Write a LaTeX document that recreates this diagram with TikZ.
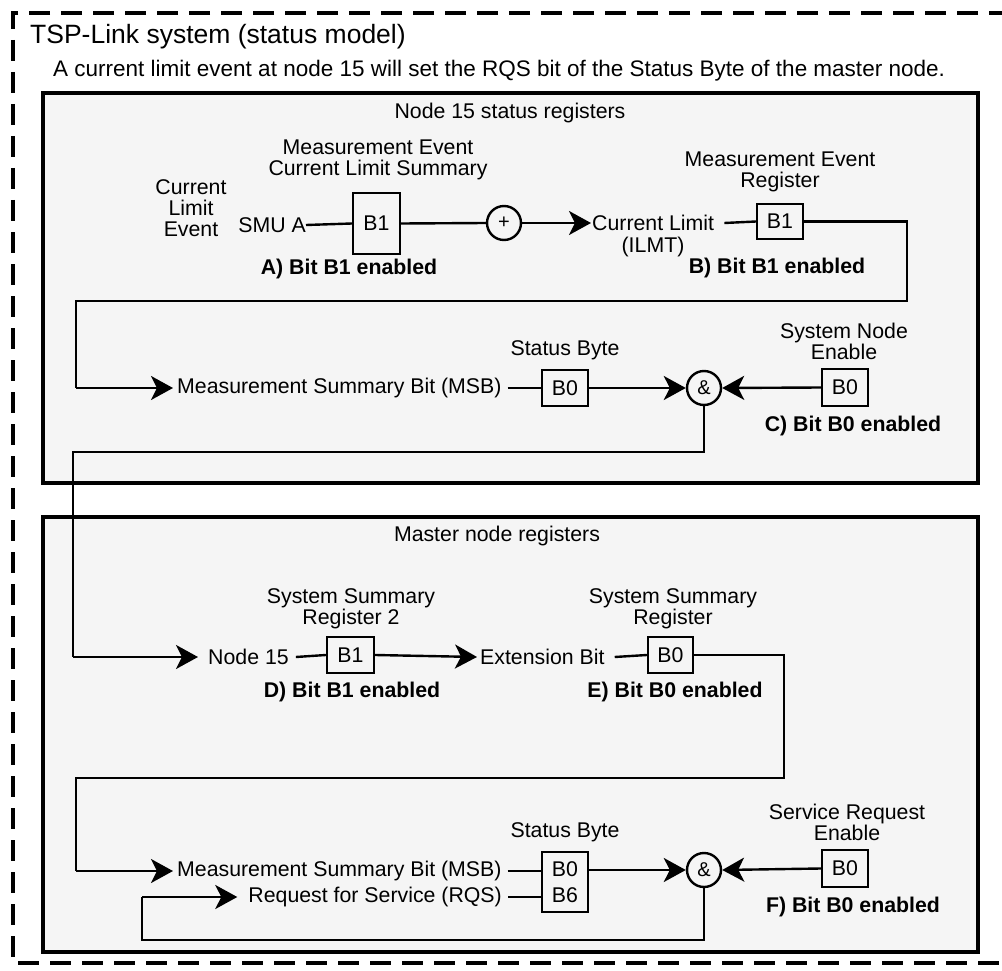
\documentclass[tikz,border=0pt]{standalone}
\usepackage{fontspec}
\setmainfont{Liberation Sans}
\usetikzlibrary{arrows.meta}
\definecolor{panel}{HTML}{F5F5F5}
\begin{document}
\begin{tikzpicture}[x=1pt,y=-1pt,
  lbl/.style={font=\fontsize{21.3}{21}\selectfont, inner sep=0pt, align=center},
  blbl/.style={font=\fontsize{21.3}{21}\selectfont\bfseries, inner sep=0pt, align=center},
  reg/.style={draw, line width=2.4pt, inner sep=0pt, minimum width=46pt, minimum height=36pt, font=\fontsize{21.3}{26}\selectfont, align=center},
  gate/.style={draw, circle, line width=2.4pt, inner sep=0pt, minimum size=34pt, font=\fontsize{20}{20}\selectfont},
  conn/.style={line width=2.4pt},
  arr/.style={line width=2.4pt, -{Stealth[length=22pt,width=24pt,inset=6pt]}},
  panelbox/.style={draw, line width=3.5pt, fill=panel}
]
\useasboundingbox (0,0) rectangle (1002,971);
\fill[white] (0,0) rectangle (1002,971);
% outer dashed frame
\draw[line width=4pt, dash pattern=on 21pt off 11pt] (1010,13) -- (13,13) -- (13,963) -- (1010,963);
\node[font=\fontsize{26.5}{27}\selectfont, inner sep=0pt, anchor=base west] (ttl) at (30,44) {TSP-Link system (status model)};
\node[font=\fontsize{22.5}{23}\selectfont, inner sep=0pt, anchor=base west] (sub) at (53,77) {A current limit event at node 15 will set the RQS bit of the Status Byte of the master node.};

% panels
\draw[panelbox] (43,93) rectangle (978,483);
\draw[panelbox] (43,517) rectangle (978,952);
\node[lbl] (p1) at (510,113) {Node 15 status registers};
\node[lbl] (p2) at (497,536) {Master node registers};

% ---- Node 15 ----
\node[lbl] (cle) at (191,208) {Current\\Limit\\Event};
\node[lbl, anchor=east] (smu) at (306,225) {SMU A};
\node[reg, minimum width=47pt, minimum height=61pt] (ra) at (376.5,223.5) {B1};
\node[lbl] (rat) at (378,160) {Measurement Event\\Current Limit Summary};
\node[blbl] (la) at (349,269) {A) Bit B1 enabled};
\node[gate] (or) at (504,223) {+};
\node[lbl, anchor=west] (cl) at (592,223) {Current Limit};
\node[lbl] (ilmt) at (653,247) {(ILMT)};
\node[reg, minimum height=35pt] (rb) at (780,221.5) {B1};
\node[lbl] (rbt) at (780,172) {Measurement Event\\Register};
\node[blbl] (lb) at (777,268) {B) Bit B1 enabled};
\node[lbl, anchor=west] (msb) at (177,388) {Measurement Summary Bit (MSB)};
\node[reg] (sb) at (565,388) {B0};
\node[lbl] (sbt) at (565,350) {Status Byte};
\node[gate] (and) at (704,388) {\&};
\node[reg, minimum height=37pt] (sne) at (845,387.5) {B0};
\node[lbl] (snet) at (844,341) {System Node\\Enable};
\node[blbl] (lc) at (853,426) {C) Bit B0 enabled};

\draw[conn] (smu.east) -- (ra.west);
\draw[conn] (ra.east) -- (or.west);
\draw[arr] (or.east) -- ([xshift=-1pt]cl.west);
\draw[conn] ([xshift=10pt]cl.east) -- (rb.west);
\draw[conn] (rb.east) -- (907,221.5) -- (907,301) -- (76,301) -- (76,388) coordinate (m1);
\draw[arr] (m1) -- ([xshift=-4pt]msb.west);
\draw[conn] ([xshift=6pt]msb.east) -- (sb.west);
\draw[arr] (sb.east) -- (and.west);
\draw[arr] (sne.west) -- (and.east);
\draw[conn] (and.south) -- (704,452) -- (73,452) -- (73,657) coordinate (m2);

% ---- Master ----
\node[lbl, anchor=west] (n15) at (208,657) {Node 15};
\node[reg, minimum width=47pt] (ssr2) at (350.5,655) {B1};
\node[lbl] (ssr2t) at (351,609) {System Summary\\Register 2};
\node[blbl] (ld) at (352,692) {D) Bit B1 enabled};
\node[lbl, anchor=west] (ext) at (480,657) {Extension Bit};
\node[reg, minimum width=45pt] (ssr) at (670.5,655) {B0};
\node[lbl] (ssrt) at (673,609) {System Summary\\Register};
\node[blbl] (le) at (675,692) {E) Bit B0 enabled};
\node[lbl, anchor=west] (msb2) at (177,871) {Measurement Summary Bit (MSB)};
\node[lbl, anchor=east] (rqs) at (502,897) {Request for Service (RQS)};
\node[reg, minimum height=60pt] (sb2) at (565,882) {B0\\B6};
\node[lbl] (sb2t) at (565,832) {Status Byte};
\node[gate] (and2) at (704,870) {\&};
\node[reg, minimum height=37pt] (sre) at (845,868.5) {B0};
\node[lbl] (sret) at (847,822) {Service Request\\Enable};
\node[blbl] (lf) at (853,907) {F) Bit B0 enabled};

\draw[arr] (m2) -- ([xshift=-10pt]n15.west);
\draw[conn] ([xshift=7pt]n15.east) -- (ssr2.west);
\draw[arr] (ssr2.east) -- ([xshift=-3pt]ext.west);
\draw[conn] ([xshift=10pt]ext.east) -- (ssr.west);
\draw[conn] (ssr.east) -- (784,655) -- (784,778) -- (76,778) -- (76,871) coordinate (m3);
\draw[arr] (m3) -- ([xshift=-4pt]msb2.west);
\draw[conn] ([xshift=6pt]msb2.east) -- (sb2.west |- msb2.east);
\draw[conn] ([xshift=6pt]rqs.east) -- (sb2.west |- rqs.east);
\draw[arr] (sb2.east |- and2.west) -- (and2.west);
\draw[arr] (sre.west) -- (and2.east);
\draw[conn] (and2.south) -- (704,940) -- (142,940) -- (142,897) coordinate (m4);
\draw[arr] (m4) -- ([xshift=-11pt]rqs.west);
\end{tikzpicture}
\end{document}
